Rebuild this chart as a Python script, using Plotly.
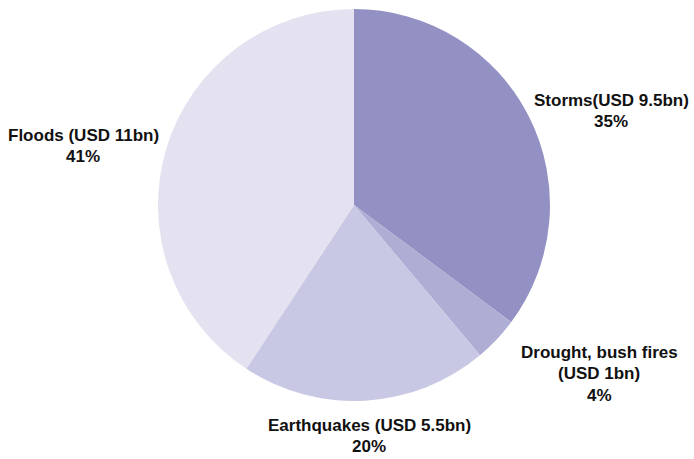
import plotly.graph_objects as go

# Economic losses by disaster type (USD bn)
categories = ["Storms", "Drought, bush fires", "Earthquakes", "Floods"]
losses_usd_bn = [9.5, 1, 5.5, 11]
label_lines = [
    ["Storms(USD 9.5bn)"],
    ["Drought, bush fires", "(USD 1bn)"],
    ["Earthquakes (USD 5.5bn)"],
    ["Floods (USD 11bn)"],
]
colors = ["#9391c4", "#aeadd4", "#c9c8e4", "#e4e2f0"]

W, H = 694, 459
total = sum(losses_usd_bn)
shares = [round(100 * v / total) for v in losses_usd_bn]

fig = go.Figure(
    go.Pie(
        labels=categories,
        values=losses_usd_bn,
        sort=False,
        direction="clockwise",
        rotation=0,
        marker=dict(colors=colors, line=dict(width=0)),
        textinfo="none",
        hoverinfo="label+value+percent",
        domain=dict(x=[158 / W, 550 / W], y=[1 - 401 / H, 1 - 9 / H]),
        showlegend=False,
    )
)

# label anchor (centre x, first-line y) in pixels for each slice
anchors = [(611, 100), (599, 352), (369, 425), (83, 135)]
line_gap = 21.5
font = dict(family="Liberation Sans, Arial, sans-serif", size=17, color="#111111")
for lines, share, (ax, ay) in zip(label_lines, shares, anchors):
    all_lines = lines + [f"{share}%"]
    for i, txt in enumerate(all_lines):
        fig.add_annotation(
            x=ax / W,
            y=1 - (ay + i * line_gap) / H,
            xref="paper",
            yref="paper",
            text=f"<b>{txt}</b>",
            showarrow=False,
            xanchor="center",
            yanchor="middle",
            font=font,
        )

fig.update_layout(
    width=W,
    height=H,
    margin=dict(l=0, r=0, t=0, b=0),
    paper_bgcolor="white",
    plot_bgcolor="white",
)

fig.write_html("out.html")
